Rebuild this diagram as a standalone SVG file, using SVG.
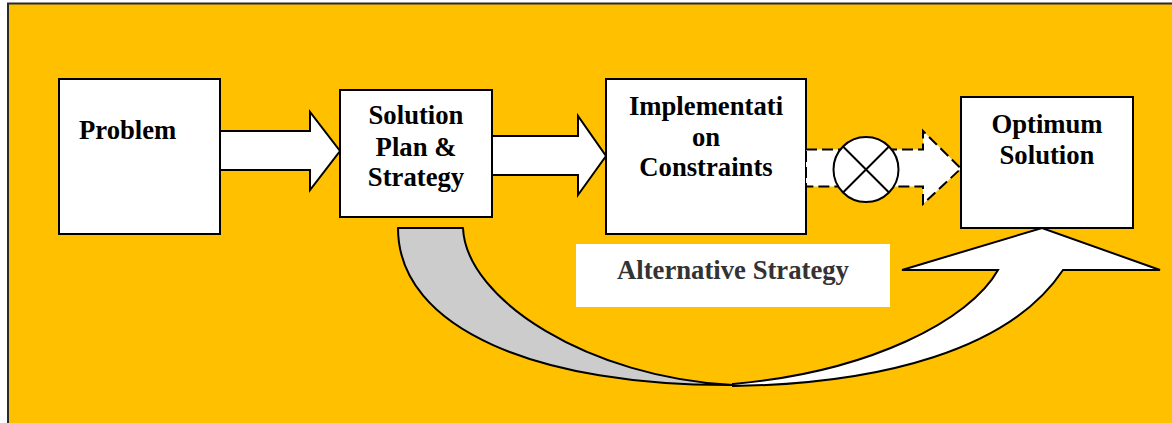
<svg xmlns="http://www.w3.org/2000/svg" width="1172" height="423" viewBox="0 0 1172 423">
  <style>
    .box { fill: #ffffff; stroke: #000000; stroke-width: 2; }
    .lbl { font-family: "Liberation Serif", "Times New Roman", serif; font-weight: bold; font-size: 26.7px; fill: #000000; }
    .mid { text-anchor: middle; }
    .arrow { fill: #ffffff; stroke: #000000; stroke-width: 2; stroke-linejoin: miter; }
    .dash { fill: #ffffff; stroke: #000000; stroke-width: 2; stroke-dasharray: 11 5; }
  </style>
  <rect x="0" y="0" width="1172" height="423" fill="#ffffff"/>
  <rect id="frame" x="8" y="3.5" width="1200" height="450" fill="#FFC000" stroke="#2a2a2a" stroke-width="2"/>

  <g id="connectors">
    <path class="arrow" d="M220,131 L310,131 L310,112 L340,151 L310,190 L310,170 L220,170"/>
    <path class="arrow" d="M492,136 L578,136 L578,116 L606,156 L578,195 L578,175 L492,175"/>
    <path id="curve-back" d="M398,228 L463,228 C466,300 590,378 733,385 C540,386 398,330 398,228 Z" fill="#cccccc" stroke="#000000" stroke-width="2" stroke-linejoin="round"/>
    <path id="curve-front" d="M733,386 C880,384 1010,350 1063,270 L1160,270 L1042,228 L902,270 L998,270 C970,320 870,372 733,384 Z" fill="#ffffff" stroke="#000000" stroke-width="2" stroke-linejoin="miter"/>
  </g>

  <g id="problem">
    <rect class="box" x="59" y="79" width="161" height="155"/>
    <text class="lbl" x="79" y="139">Problem</text>
  </g>

  <g id="solution-plan">
    <rect class="box" x="340" y="90" width="152" height="127"/>
    <text class="lbl mid" x="416" y="124">Solution</text>
    <text class="lbl mid" x="416" y="155.5">Plan &amp;</text>
    <text class="lbl mid" x="416" y="186">Strategy</text>
  </g>

  <g id="implementation">
    <rect class="box" x="606" y="79" width="200" height="155"/>
    <text class="lbl mid" x="706" y="115">Implementati</text>
    <text class="lbl mid" x="706" y="145.5">on</text>
    <text class="lbl mid" x="706" y="176">Constraints</text>
  </g>

  <g id="dashed-connector">
    <path class="dash" d="M806,149.5 L923,149.5 L923,131 L961,168.5 L923,204 L923,186.5 L806,186.5 Z"/>
  </g>

  <g id="mixer">
    <circle cx="866" cy="169.5" r="32.5" fill="#ffffff" stroke="#000000" stroke-width="2"/>
    <line x1="843" y1="146.5" x2="889" y2="192.5" stroke="#000000" stroke-width="2"/>
    <line x1="889" y1="146.5" x2="843" y2="192.5" stroke="#000000" stroke-width="2"/>
  </g>

  <g id="optimum">
    <rect class="box" x="961" y="97" width="172" height="131"/>
    <text class="lbl mid" x="1047" y="133">Optimum</text>
    <text class="lbl mid" x="1047" y="163.5">Solution</text>
  </g>

  <g id="alternative-label">
    <rect x="576" y="244" width="314" height="63" fill="#ffffff"/>
    <text class="lbl mid" x="733" y="279" style="fill:#333333">Alternative Strategy</text>
  </g>
</svg>
